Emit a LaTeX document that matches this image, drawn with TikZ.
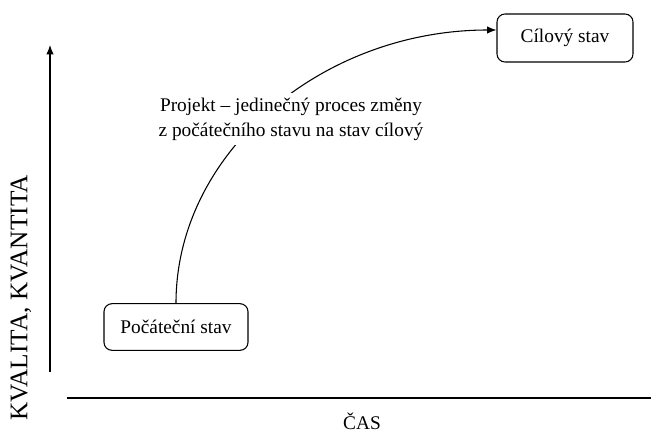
\documentclass[tikz,border=0pt]{standalone}
\usepackage{fontspec}
\setmainfont{Liberation Serif}
\usetikzlibrary{positioning}
\usetikzlibrary{arrows.meta}

\begin{document}
\begin{tikzpicture}[x=0.75pt,y=-0.75pt,
    stav/.style={draw,rounded corners=6pt,line width=0.8pt,minimum width=108pt,minimum height=35pt,font=\fontsize{14.5}{18}\selectfont},
    sipka/.style={-{Latex[length=7pt,width=5.5pt]},line width=0.8pt}]
    \useasboundingbox (0,0) rectangle (651,432);
    % osy
    \coordinate (y0) at (50,372);
    \coordinate (y1) at (50,45);
    \coordinate (x0) at (67,398);
    \coordinate (x1) at (651,398);
    \draw[sipka] (y0) -- (y1);
    \draw[line width=0.8pt] (x0) -- (x1);
    \node[rotate=90,font=\fontsize{19}{22}\selectfont] (kval) at (21,298) {KVALITA, KVANTITA};
    \node[font=\fontsize{14.5}{18}\selectfont] (cas) at (362,421) {ČAS};
    % stavy
    \node[stav] (pocatek) at (176,327) {Počáteční stav};
    \node[stav,minimum width=102pt,minimum height=36pt] (cil) at (565,38) {Cílový stav};
    \draw[sipka] (pocatek.north) .. controls +(0,-150) and +(-175,0) .. ([yshift=6pt]cil.west);
    \node[fill=white,align=center,font=\fontsize{14.5}{18.75}\selectfont] (projekt) at (291,119)
        {Projekt -- jedinečný proces změny\\z počátečního stavu na stav cílový};
\end{tikzpicture}
\end{document}
